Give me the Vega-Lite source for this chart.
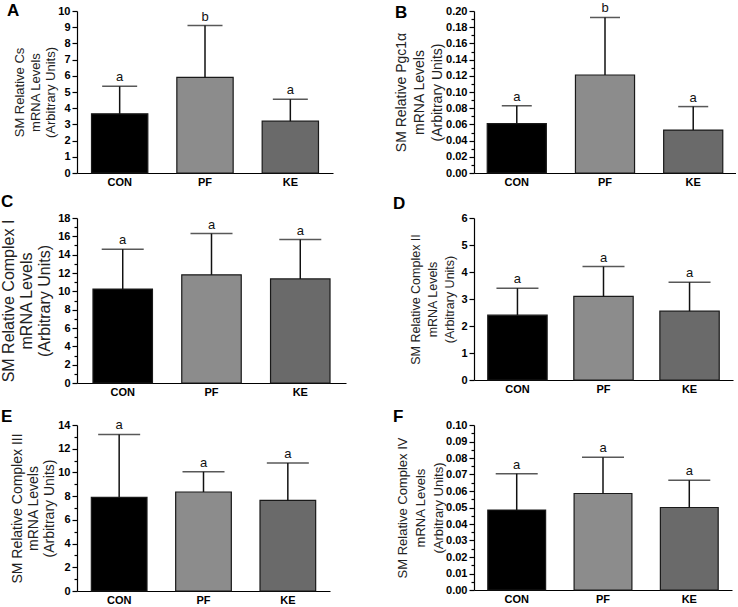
{
  "$schema": "https://vega.github.io/schema/vega-lite/v6.json",
  "padding": {"left": 0, "top": 2, "right": 0, "bottom": 0},
  "background": "white",
  "data": {"values": [
    {"panel": "A", "group": "CON", "mean": 3.65, "upper": 5.35, "letter": "a"},
    {"panel": "A", "group": "PF", "mean": 5.9, "upper": 9.1, "letter": "b"},
    {"panel": "A", "group": "KE", "mean": 3.2, "upper": 4.55, "letter": "a"},
    {"panel": "B", "group": "CON", "mean": 0.061, "upper": 0.083, "letter": "a"},
    {"panel": "B", "group": "PF", "mean": 0.121, "upper": 0.192, "letter": "b"},
    {"panel": "B", "group": "KE", "mean": 0.053, "upper": 0.082, "letter": "a"},
    {"panel": "C", "group": "CON", "mean": 10.25, "upper": 14.6, "letter": "a"},
    {"panel": "C", "group": "PF", "mean": 11.8, "upper": 16.3, "letter": "a"},
    {"panel": "C", "group": "KE", "mean": 11.35, "upper": 15.65, "letter": "a"},
    {"panel": "D", "group": "CON", "mean": 2.4, "upper": 3.4, "letter": "a"},
    {"panel": "D", "group": "PF", "mean": 3.1, "upper": 4.2, "letter": "a"},
    {"panel": "D", "group": "KE", "mean": 2.55, "upper": 3.62, "letter": "a"},
    {"panel": "E", "group": "CON", "mean": 7.9, "upper": 13.2, "letter": "a"},
    {"panel": "E", "group": "PF", "mean": 8.35, "upper": 10.05, "letter": "a"},
    {"panel": "E", "group": "KE", "mean": 7.65, "upper": 10.8, "letter": "a"},
    {"panel": "F", "group": "CON", "mean": 0.0485, "upper": 0.0705, "letter": "a"},
    {"panel": "F", "group": "PF", "mean": 0.0585, "upper": 0.0805, "letter": "a"},
    {"panel": "F", "group": "KE", "mean": 0.050, "upper": 0.0665, "letter": "a"}
  ]},
  "config": {
    "view": {"stroke": null},
    "font": "Liberation Sans",
    "axis": {"labelFont": "Liberation Sans", "labelFontWeight": "bold", "labelFontSize": 11, "labelColor": "#000", "domainColor": "#000", "tickColor": "#000", "titleFont": "Liberation Sans", "titleFontWeight": "normal", "titleColor": "#222", "grid": false, "domainWidth": 1.2, "tickWidth": 1.2},
    "axisX": {"ticks": false, "labelAngle": 0, "labelPadding": 3},
    "axisY": {"tickSize": 5, "labelPadding": 2, "titleFontSize": 13, "titleLineHeight": 15, "titlePadding": 5},
    "title": {"font": "Liberation Sans", "fontSize": 17, "fontWeight": "bold", "anchor": "start", "frame": "group", "color": "#000"}
  },
  "bounds": "flush",
  "align": "all",
  "columns": 2,
  "spacing": {"column": 128, "row": 41},
  "concat": [
    {
      "width": 256, "height": 162,
      "title": {"text": "A", "dx": -70, "dy": 19},
      "transform": [{"filter": "datum.panel === 'A'"}],
      "encoding": {"x": {"field": "group", "type": "nominal", "sort": ["CON", "PF", "KE"], "scale": {"paddingInner": 0.34, "paddingOuter": 0.17}, "axis": {"title": null, "labelOverlap": false}}},
      "layer": [
        {"mark": {"type": "bar", "stroke": "#1a1a1a", "strokeWidth": 1.2},
         "encoding": {
           "y": {"field": "mean", "type": "quantitative", "scale": {"domain": [0, 10], "nice": false}, "title": ["SM Relative Cs", "mRNA Levels", "(Arbitrary Units)"], "axis": {"values": [0, 1, 2, 3, 4, 5, 6, 7, 8, 9, 10], "format": "d", "tickCount": 100, "labelOverlap": false, "titleFontSize": 13, "titleLineHeight": 15.5, "titlePadding": 0}},
           "color": {"field": "group", "type": "nominal", "scale": {"domain": ["CON", "PF", "KE"], "range": ["#000000", "#8c8c8c", "#6a6a6a"]}, "legend": null}}},
        {"mark": {"type": "rule", "strokeWidth": 1.5, "color": "#111"}, "encoding": {"y": {"field": "mean", "type": "quantitative"}, "y2": {"field": "upper"}}},
        {"mark": {"type": "tick", "thickness": 1.5, "size": 35, "color": "#111"}, "encoding": {"y": {"field": "upper", "type": "quantitative"}}},
        {"mark": {"type": "text", "baseline": "bottom", "dy": -2, "fontSize": 13, "color": "#111"}, "encoding": {"y": {"field": "upper", "type": "quantitative"}, "text": {"field": "letter"}}}
      ]
    },
    {
      "width": 262, "height": 162,
      "title": {"text": "B", "dx": -79, "dy": 24},
      "transform": [{"filter": "datum.panel === 'B'"}],
      "encoding": {"x": {"field": "group", "type": "nominal", "sort": ["CON", "PF", "KE"], "scale": {"paddingInner": 0.33, "paddingOuter": 0.15}, "axis": {"title": null, "labelOverlap": false}}},
      "layer": [
        {"mark": {"type": "bar", "stroke": "#1a1a1a", "strokeWidth": 1.2},
         "encoding": {
           "y": {"field": "mean", "type": "quantitative", "scale": {"domain": [0, 0.2], "nice": false}, "title": ["SM Relative Pgc1α", "mRNA Levels", "(Arbitrary Units)"],
             "axis": {"values": [0, 0.01, 0.02, 0.03, 0.04, 0.05, 0.06, 0.07, 0.08, 0.09, 0.1, 0.11, 0.12, 0.13, 0.14, 0.15, 0.16, 0.17, 0.18, 0.19, 0.2], "tickCount": 100, "format": ".2f", "labelOverlap": false,
               "labelExpr": "round(datum.value*100) % 2 === 1 ? '' : datum.label",
               "tickSize": {"condition": {"test": "round(datum.value*100) % 2 === 1", "value": 3}, "value": 5},
               "titleFontSize": 14, "titleLineHeight": 18, "titlePadding": 1}},
           "color": {"field": "group", "type": "nominal", "scale": {"domain": ["CON", "PF", "KE"], "range": ["#000000", "#8c8c8c", "#6a6a6a"]}, "legend": null}}},
        {"mark": {"type": "rule", "strokeWidth": 1.5, "color": "#111"}, "encoding": {"y": {"field": "mean", "type": "quantitative"}, "y2": {"field": "upper"}}},
        {"mark": {"type": "tick", "thickness": 1.5, "size": 30, "color": "#111"}, "encoding": {"y": {"field": "upper", "type": "quantitative"}}},
        {"mark": {"type": "text", "baseline": "bottom", "dy": -2, "fontSize": 13, "color": "#111"}, "encoding": {"y": {"field": "upper", "type": "quantitative"}, "text": {"field": "letter"}}}
      ]
    },
    {
      "width": 269, "height": 165,
      "title": {"text": "C", "dx": -76, "dy": 3},
      "transform": [{"filter": "datum.panel === 'C'"}],
      "encoding": {"x": {"field": "group", "type": "nominal", "sort": ["CON", "PF", "KE"], "scale": {"paddingInner": 0.33, "paddingOuter": 0.18}, "axis": {"title": null, "labelOverlap": false}}},
      "layer": [
        {"mark": {"type": "bar", "stroke": "#1a1a1a", "strokeWidth": 1.2},
         "encoding": {
           "y": {"field": "mean", "type": "quantitative", "scale": {"domain": [0, 18], "nice": false}, "title": ["SM Relative Complex I", "mRNA Levels", "(Arbitrary Units)"],
             "axis": {"values": [0, 1, 2, 3, 4, 5, 6, 7, 8, 9, 10, 11, 12, 13, 14, 15, 16, 17, 18], "format": "d", "tickCount": 100, "labelOverlap": false,
               "labelExpr": "round(datum.value) % 2 === 1 ? '' : datum.label",
               "tickSize": {"condition": {"test": "round(datum.value) % 2 === 1", "value": 3}, "value": 5},
               "titleFontSize": 16, "titleLineHeight": 18}},
           "color": {"field": "group", "type": "nominal", "scale": {"domain": ["CON", "PF", "KE"], "range": ["#000000", "#8c8c8c", "#6a6a6a"]}, "legend": null}}},
        {"mark": {"type": "rule", "strokeWidth": 1.5, "color": "#111"}, "encoding": {"y": {"field": "mean", "type": "quantitative"}, "y2": {"field": "upper"}}},
        {"mark": {"type": "tick", "thickness": 1.5, "size": 42, "color": "#111"}, "encoding": {"y": {"field": "upper", "type": "quantitative"}}},
        {"mark": {"type": "text", "baseline": "bottom", "dy": -2, "fontSize": 13, "color": "#111"}, "encoding": {"y": {"field": "upper", "type": "quantitative"}, "text": {"field": "letter"}}}
      ]
    },
    {
      "width": 259, "height": 162,
      "title": {"text": "D", "dx": -81, "dy": 5},
      "transform": [{"filter": "datum.panel === 'D'"}],
      "encoding": {"x": {"field": "group", "type": "nominal", "sort": ["CON", "PF", "KE"], "scale": {"paddingInner": 0.31, "paddingOuter": 0.16}, "axis": {"title": null, "labelOverlap": false}}},
      "layer": [
        {"mark": {"type": "bar", "stroke": "#1a1a1a", "strokeWidth": 1.2},
         "encoding": {
           "y": {"field": "mean", "type": "quantitative", "scale": {"domain": [0, 6], "nice": false}, "title": ["SM Relative Complex II", "mRNA Levels", "(Arbitrary Units)"],
             "axis": {"values": [0, 0.5, 1, 1.5, 2, 2.5, 3, 3.5, 4, 4.5, 5, 5.5, 6], "format": "d", "tickCount": 100, "labelOverlap": false,
               "labelExpr": "round(datum.value*2) % 2 === 1 ? '' : datum.label",
               "tickSize": {"condition": {"test": "round(datum.value*2) % 2 === 1", "value": 3}, "value": 5},
               "titleFontSize": 12.5, "titleLineHeight": 17, "titlePadding": 4}},
           "color": {"field": "group", "type": "nominal", "scale": {"domain": ["CON", "PF", "KE"], "range": ["#000000", "#8c8c8c", "#6a6a6a"]}, "legend": null}}},
        {"mark": {"type": "rule", "strokeWidth": 1.5, "color": "#111"}, "encoding": {"y": {"field": "mean", "type": "quantitative"}, "y2": {"field": "upper"}}},
        {"mark": {"type": "tick", "thickness": 1.5, "size": 42, "color": "#111"}, "encoding": {"y": {"field": "upper", "type": "quantitative"}}},
        {"mark": {"type": "text", "baseline": "bottom", "dy": -2, "fontSize": 13, "color": "#111"}, "encoding": {"y": {"field": "upper", "type": "quantitative"}, "text": {"field": "letter"}}}
      ]
    },
    {
      "width": 253, "height": 166,
      "title": {"text": "E", "dx": -76, "dy": 11},
      "transform": [{"filter": "datum.panel === 'E'"}],
      "encoding": {"x": {"field": "group", "type": "nominal", "sort": ["CON", "PF", "KE"], "scale": {"paddingInner": 0.34, "paddingOuter": 0.17}, "axis": {"title": null, "labelOverlap": false}}},
      "layer": [
        {"mark": {"type": "bar", "stroke": "#1a1a1a", "strokeWidth": 1.2},
         "encoding": {
           "y": {"field": "mean", "type": "quantitative", "scale": {"domain": [0, 14], "nice": false}, "title": ["SM Relative Complex III", "mRNA Levels", "(Arbitrary Units)"],
             "axis": {"values": [0, 1, 2, 3, 4, 5, 6, 7, 8, 9, 10, 11, 12, 13, 14], "format": "d", "tickCount": 100, "labelOverlap": false,
               "labelExpr": "round(datum.value) % 2 === 1 ? '' : datum.label",
               "tickSize": {"condition": {"test": "round(datum.value) % 2 === 1", "value": 3}, "value": 5},
               "titleFontSize": 14, "titleLineHeight": 16, "titlePadding": 1}},
           "color": {"field": "group", "type": "nominal", "scale": {"domain": ["CON", "PF", "KE"], "range": ["#000000", "#8c8c8c", "#6a6a6a"]}, "legend": null}}},
        {"mark": {"type": "rule", "strokeWidth": 1.5, "color": "#111"}, "encoding": {"y": {"field": "mean", "type": "quantitative"}, "y2": {"field": "upper"}}},
        {"mark": {"type": "tick", "thickness": 1.5, "size": 42, "color": "#111"}, "encoding": {"y": {"field": "upper", "type": "quantitative"}}},
        {"mark": {"type": "text", "baseline": "bottom", "dy": -2, "fontSize": 13, "color": "#111"}, "encoding": {"y": {"field": "upper", "type": "quantitative"}, "text": {"field": "letter"}}}
      ]
    },
    {
      "width": 258, "height": 165,
      "title": {"text": "F", "dx": -81, "dy": 11},
      "transform": [{"filter": "datum.panel === 'F'"}],
      "encoding": {"x": {"field": "group", "type": "nominal", "sort": ["CON", "PF", "KE"], "scale": {"paddingInner": 0.33, "paddingOuter": 0.16}, "axis": {"title": null, "labelOverlap": false}}},
      "layer": [
        {"mark": {"type": "bar", "stroke": "#1a1a1a", "strokeWidth": 1.2},
         "encoding": {
           "y": {"field": "mean", "type": "quantitative", "scale": {"domain": [0, 0.1], "nice": false}, "title": ["SM Relative Complex IV", "mRNA Levels", "(Arbitrary Units)"],
             "axis": {"values": [0, 0.005, 0.01, 0.015, 0.02, 0.025, 0.03, 0.035, 0.04, 0.045, 0.05, 0.055, 0.06, 0.065, 0.07, 0.075, 0.08, 0.085, 0.09, 0.095, 0.1], "tickCount": 100, "format": ".2f", "labelOverlap": false,
               "labelExpr": "round(datum.value*1000) % 10 === 5 ? '' : datum.label",
               "tickSize": {"condition": {"test": "round(datum.value*1000) % 10 === 5", "value": 3}, "value": 5},
               "titleFontSize": 13, "titleLineHeight": 18, "titlePadding": 0}},
           "color": {"field": "group", "type": "nominal", "scale": {"domain": ["CON", "PF", "KE"], "range": ["#000000", "#8c8c8c", "#6a6a6a"]}, "legend": null}}},
        {"mark": {"type": "rule", "strokeWidth": 1.5, "color": "#111"}, "encoding": {"y": {"field": "mean", "type": "quantitative"}, "y2": {"field": "upper"}}},
        {"mark": {"type": "tick", "thickness": 1.5, "size": 42, "color": "#111"}, "encoding": {"y": {"field": "upper", "type": "quantitative"}}},
        {"mark": {"type": "text", "baseline": "bottom", "dy": -2, "fontSize": 13, "color": "#111"}, "encoding": {"y": {"field": "upper", "type": "quantitative"}, "text": {"field": "letter"}}}
      ]
    }
  ]
}
